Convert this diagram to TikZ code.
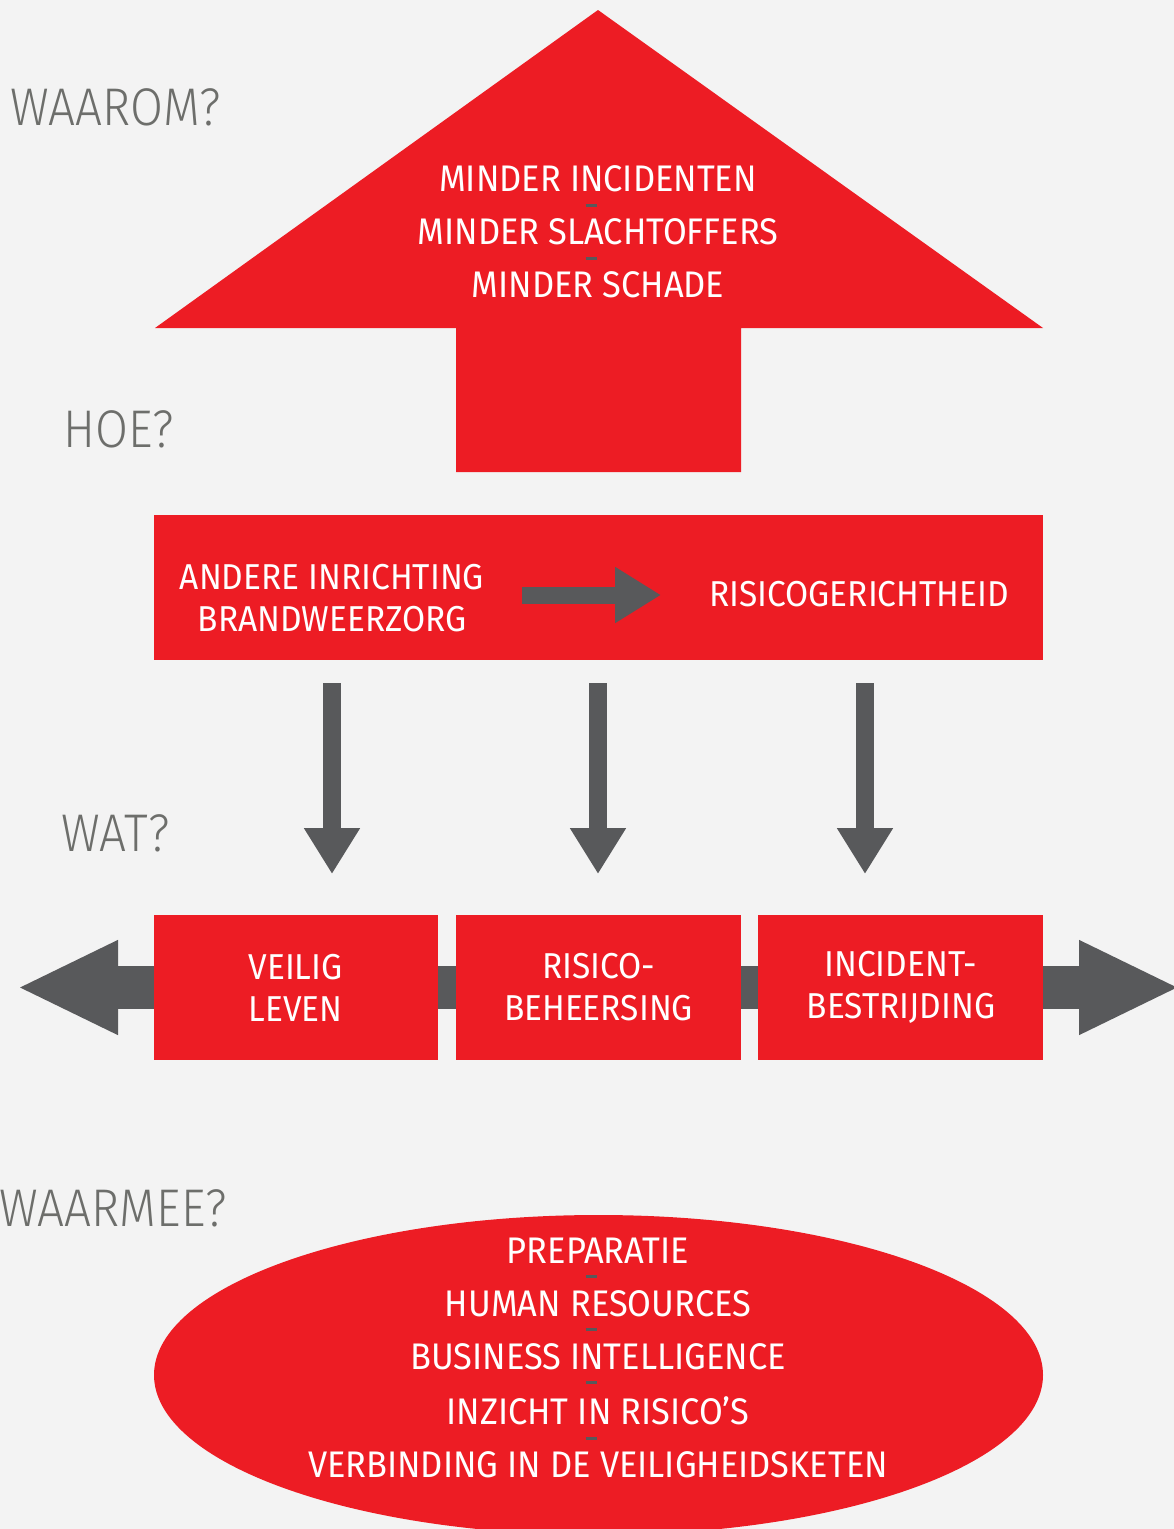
\documentclass[tikz,border=0pt]{standalone}
\usepackage{fontspec}
\setmainfont{Fira Sans}[FakeStretch=0.93]
\newfontfamily\lightfont{Fira Sans Light}[FakeStretch=0.9]
\usetikzlibrary{positioning,arrows.meta,shapes.geometric}

\definecolor{brwred}{RGB}{237,28,36}
\definecolor{brwgray}{RGB}{88,89,91}
\definecolor{labelgray}{RGB}{109,110,107}
\definecolor{bggray}{RGB}{243,243,243}

% kleine grijze streep tussen twee regels
\newcommand{\tussen}{\\\makebox[0pt][r]{\textcolor{brwgray}{\rule[11.5pt]{11pt}{3pt}}\hspace{1.5pt}}\\}

\tikzset{
  box/.style={fill=brwred, text=white, minimum height=145pt, inner sep=0pt,
    align=center, font=\fontsize{36}{42}\selectfont},
  boxtekst/.style={text=white, inner sep=0pt, align=center,
    font=\fontsize{36}{42}\selectfont},
  vraag/.style={anchor=west, text=labelgray, inner sep=0pt,
    font=\lightfont\fontsize{53}{60}\selectfont},
  rijtje/.style={text=white, align=center, inner sep=0pt,
    font=\fontsize{37}{26.5}\selectfont},
  dikpijl/.style={draw=brwgray, line width=18pt,
    -{Triangle[width=53pt,length=46pt]}},
}

\begin{document}
\begin{tikzpicture}[x=1pt,y=-1pt]

\path[use as bounding box] (0,0) rectangle (1174,1529);
\clip (0,0) rectangle (1174,1529);
\fill[bggray] (0,0) rectangle (1174,1529);

% waarom: grote pijl omhoog
\fill[brwred] (598,10) -- (1043,328) -- (741,328) -- (741,472)
  -- (456,472) -- (456,328) -- (155,328) -- cycle;
\node[rijtje] (doelen) at (598,232)
  {MINDER INCIDENTEN\tussen MINDER SLACHTOFFERS\tussen MINDER SCHADE};

% de vragen links
\node[vraag] (waarom) at (10,107) {WAAROM?};
\node[vraag] (hoevraag) at (63,429) {HOE?};
\node[vraag] (watvraag) at (61,833) {WAT?};
\node[vraag] (waarmeevraag) at (-1,1208) {WAARMEE?};

% hoe
\node[box, minimum width=889pt] (hoe) at (598.5,587.5) {};
\node[boxtekst] (andere) at (332,598) {ANDERE INRICHTING\\BRANDWEERZORG};
\node[boxtekst] (risicogericht) at (859,594) {RISICOGERICHTHEID};
\coordinate (pijlvan) at (522,595);
\coordinate (pijlnaar) at (661,595);
\draw[dikpijl, line width=17pt] (pijlvan) -- (pijlnaar);

% pijlen naar beneden
\foreach \x [count=\i] in {332,598,865} {
  \coordinate (van\i) at (\x,683);
  \coordinate (naar\i) at (\x,874);
  \draw[dikpijl] (van\i) -- (naar\i);
}

% wat: dubbele pijl met drie blokken
\coordinate (links) at (17,987.5);
\coordinate (rechts) at (1180,987.5);
\draw[brwgray, line width=43pt,
  {Triangle[width=87pt,length=101pt]}-{Triangle[width=87pt,length=101pt]}]
  (links) -- (rechts);

\node[box, minimum width=285pt] (risico) at (598.5,987.5) {RISICO-\\BEHEERSING};
\node[box, minimum width=284pt, left=18pt of risico] (veilig) {VEILIG\\LEVEN};
\node[box, minimum width=285pt, right=17pt of risico] (incident) {INCIDENT-\\BESTRIJDING};

% waarmee
\node[ellipse, fill=brwred, minimum width=889pt, minimum height=320pt,
  inner sep=0pt] (waarmee) at (598.5,1375) {};
\node[rijtje] (middelen) at (598,1358)
  {PREPARATIE\tussen HUMAN RESOURCES\tussen BUSINESS INTELLIGENCE\tussen
   INZICHT IN RISICO’S\tussen VERBINDING IN DE VEILIGHEIDSKETEN};

\end{tikzpicture}
\end{document}
